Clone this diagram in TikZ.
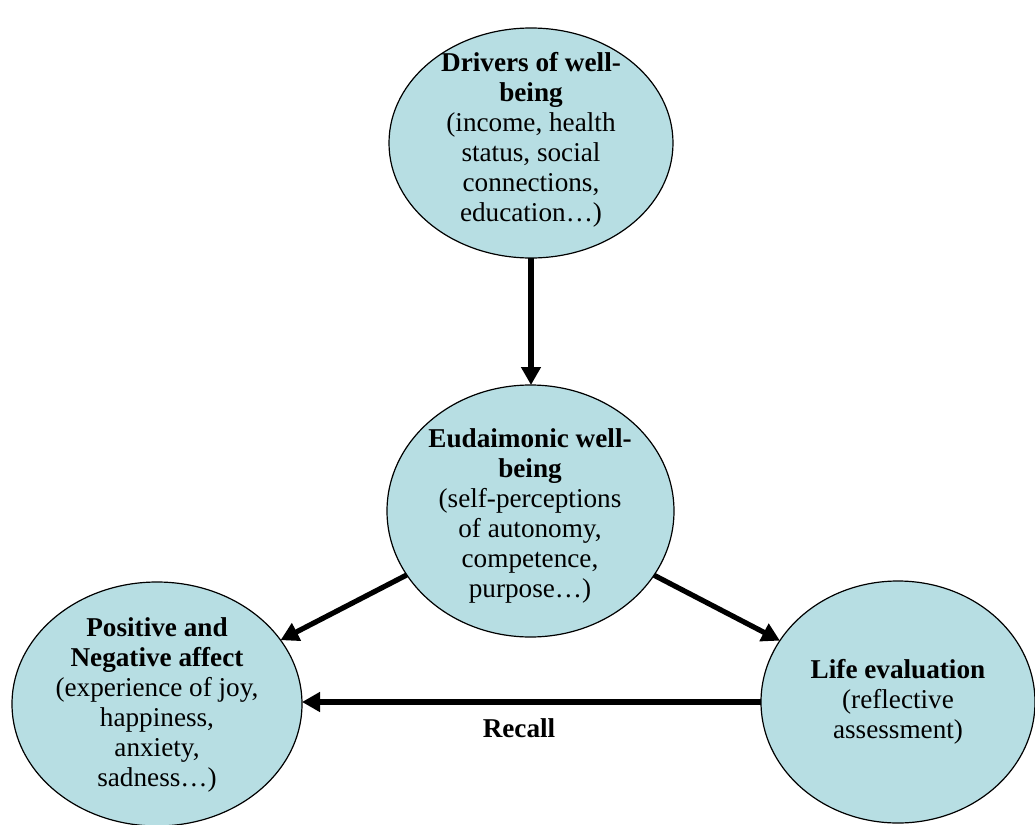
\documentclass[tikz,border=0pt]{standalone}
\usepackage{fontspec}
\setmainfont{Liberation Serif}
\usetikzlibrary{shapes.geometric,arrows.meta}
\definecolor{bubblefill}{RGB}{183,222,227}

\begin{document}
\begin{tikzpicture}[inner sep=0pt,outer sep=0pt,
    every node/.style={font=\fontsize{13.6}{15}\selectfont},
    bubble/.style={ellipse,draw=black,line width=0.6pt,fill=bubblefill},
    caption/.style={align=center},
    link/.style={line width=2.6pt,-{Triangle[length=9pt,width=9.5pt]}}]
    \useasboundingbox (0,0) rectangle (517.5pt,-412.5pt);

    % drivers
    \node[bubble,minimum width=142pt,minimum height=115pt] (drivers) at (265.5pt,-71.5pt) {};
    \node[caption] (drivers_txt) at (265.5pt,-70pt)
    {\textbf{Drivers of well-}\\ \textbf{being}\\ (income, health\\ status, social\\ connections,\\ education…)};

    % eudaimonic
    \node[bubble,minimum width=143.5pt,minimum height=126pt] (eudaim) at (265.25pt,-255.5pt) {};
    \node[caption] (eudaim_txt) at (265pt,-258pt)
    {\textbf{Eudaimonic well-}\\ \textbf{being}\\ (self-perceptions\\ of autonomy,\\ competence,\\ purpose…)};

    % affect
    \node[bubble,minimum width=145pt,minimum height=122pt] (affect) at (78.5pt,-352pt) {};
    \node[caption] (affect_txt) at (78.5pt,-352.5pt)
    {\textbf{Positive and}\\ \textbf{Negative affect}\\ (experience of joy,\\ happiness,\\ anxiety,\\ sadness…)};

    % life evaluation
    \node[bubble,minimum width=137pt,minimum height=121pt] (life_eval) at (449pt,-351pt) {};
    \node[caption] (life_eval_txt) at (449pt,-351pt)
    {\textbf{Life evaluation}\\ (reflective\\ assessment)};

    % links
    \draw[link] (drivers.south) -- (drivers.south |- eudaim.north);
    \draw[link] (eudaim) -- (affect);
    \draw[link] (eudaim) -- (life_eval);
    \draw[link] (life_eval.west) -- (life_eval.west -| affect.east);
    \node (recall_lbl) at (259.5pt,-364pt) {\textbf{Recall}};
\end{tikzpicture}
\end{document}
